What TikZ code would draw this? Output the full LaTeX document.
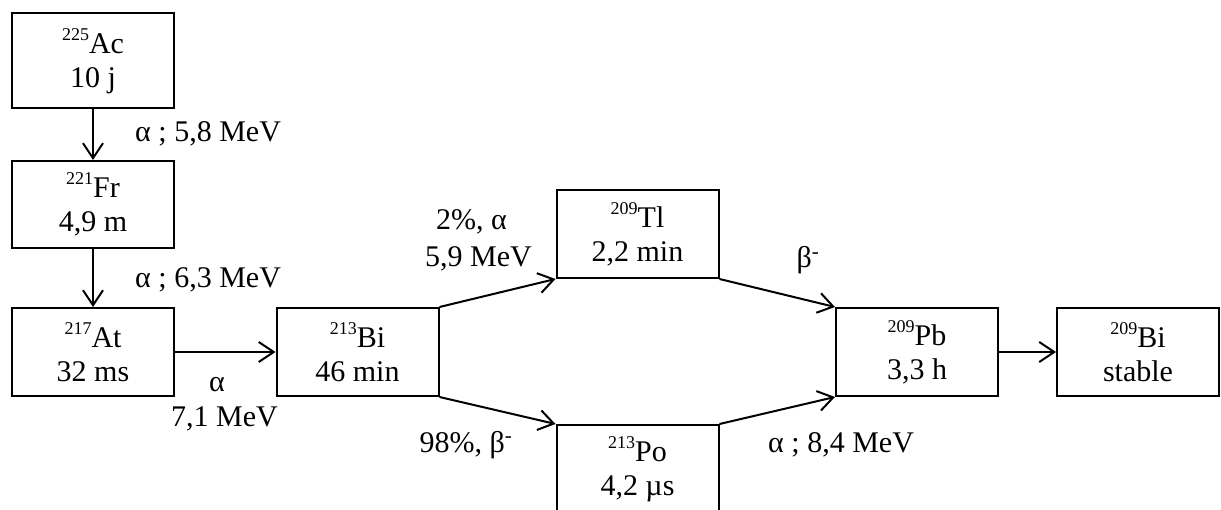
\documentclass[tikz,border=0pt]{standalone}
\usepackage{fontspec}
\setmainfont{Liberation Serif}
\usetikzlibrary{arrows.meta}
\newcommand{\iso}[1]{\raisebox{0.43em}{\fontsize{18}{18}\selectfont #1}}
\begin{document}
\begin{tikzpicture}[x=1pt,y=-1pt,
  box/.style={draw,line width=2pt,minimum width=162pt,minimum height=88pt,inner sep=0pt,align=center,
    font=\fontsize{30}{34}\selectfont},
  lbl/.style={font=\fontsize{30}{34}\selectfont,inner sep=0pt},
  arr/.style={line width=2pt,-{Straight Barb[length=15pt,width=20pt]}}]
\useasboundingbox (0,0) rectangle (1221,510);
\clip (0,0) rectangle (1221,510);
\node[box,minimum height=95pt] (ac) at (93,61) {\iso{225}Ac\\10 j};
\node[box,minimum height=87pt] (fr) at (93,204.5) {\iso{221}Fr\\4,9 m};
\node[box] (at) at (93,352) {\iso{217}At\\32 ms};
\node[box] (bi) at (357.5,352) {\iso{213}Bi\\46 min};
\node[box] (tl) at (637.5,234) {\iso{209}Tl\\2,2 min};
\node[box] (po) at (637.5,469) {\iso{213}Po\\4,2 µs};
\node[box] (pb) at (917,352) {\iso{209}Pb\\3,3 h};
\node[box] (bs) at (1138,352) {\iso{209}Bi\\stable};
\draw[arr] (ac) -- (fr);
\draw[arr] (fr) -- (at);
\draw[arr] (at) -- (bi);
\draw[arr] (bi.north east) -- (tl.south west);
\draw[arr] (bi.south east) -- (po.north west);
\draw[arr] (tl.south east) -- (pb.north west);
\draw[arr] (po.north east) -- (pb.south west);
\draw[arr] (pb) -- (bs);
\node[lbl,anchor=base west] (l1) at (135,142) {α ; 5,8 MeV};
\node[lbl,anchor=base west] (l2) at (135,288) {α ; 6,3 MeV};
\node[lbl,anchor=base] (l3) at (217,392) {α};
\node[lbl,anchor=base] (l4) at (224.5,427) {7,1 MeV};
\node[lbl,anchor=base] (l5) at (471.5,230) {2\%, α};
\node[lbl,anchor=base] (l6) at (478.5,267) {5,9 MeV};
\node[lbl,anchor=base] (l7) at (808,268) {β\textsuperscript{-}};
\node[lbl,anchor=base] (l8) at (466,452) {98\%, β\textsuperscript{-}};
\node[lbl,anchor=base west] (l9) at (768,452) {α ; 8,4 MeV};
\end{tikzpicture}
\end{document}
